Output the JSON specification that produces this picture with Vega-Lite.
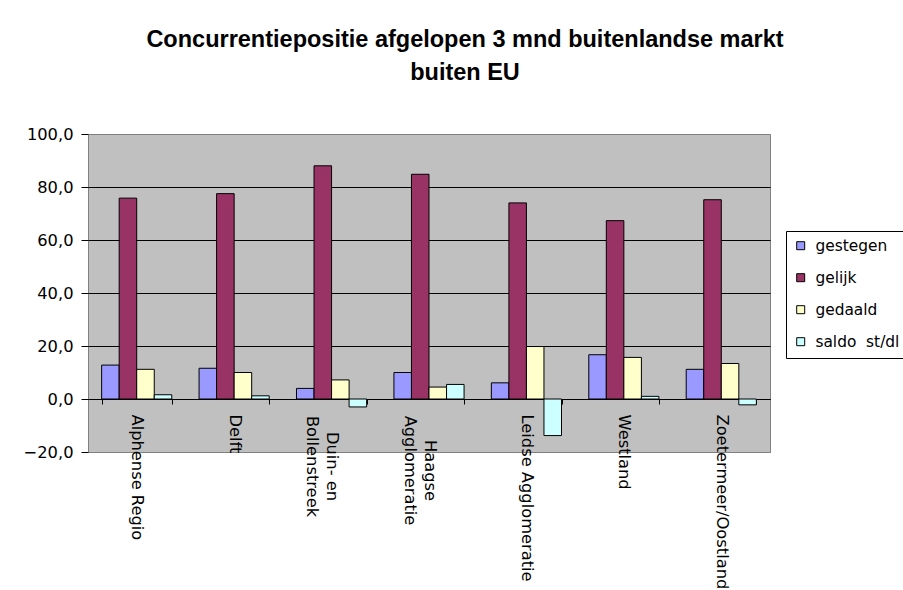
{
  "$schema": "https://vega.github.io/schema/vega-lite/v6.json",
  "width": 682,
  "height": 318,
  "autosize": "none",
  "padding": {"left": 88, "top": 134, "right": 133, "bottom": 138},
  "background": "white",
  "title": {
    "text": ["Concurrentiepositie afgelopen 3 mnd buitenlandse markt", "buiten EU"],
    "font": "Liberation Sans",
    "fontSize": 23.5,
    "fontWeight": "bold",
    "color": "black",
    "anchor": "middle",
    "dx": 36,
    "offset": 41,
    "lineHeight": 33.4
  },
  "data": {
    "values": [
      {"regio": "Alphense Regio", "reeks": "gestegen", "waarde": 12.8},
      {"regio": "Alphense Regio", "reeks": "gelijk", "waarde": 75.8},
      {"regio": "Alphense Regio", "reeks": "gedaald", "waarde": 11.2},
      {"regio": "Alphense Regio", "reeks": "saldo  st/dl", "waarde": 1.6},
      {"regio": "Delft", "reeks": "gestegen", "waarde": 11.6},
      {"regio": "Delft", "reeks": "gelijk", "waarde": 77.5},
      {"regio": "Delft", "reeks": "gedaald", "waarde": 10.0},
      {"regio": "Delft", "reeks": "saldo  st/dl", "waarde": 1.2},
      {"regio": "Duin- en Bollenstreek", "reeks": "gestegen", "waarde": 4.0},
      {"regio": "Duin- en Bollenstreek", "reeks": "gelijk", "waarde": 88.0},
      {"regio": "Duin- en Bollenstreek", "reeks": "gedaald", "waarde": 7.2},
      {"regio": "Duin- en Bollenstreek", "reeks": "saldo  st/dl", "waarde": -3.0},
      {"regio": "Haagse Agglomeratie", "reeks": "gestegen", "waarde": 10.0},
      {"regio": "Haagse Agglomeratie", "reeks": "gelijk", "waarde": 84.8},
      {"regio": "Haagse Agglomeratie", "reeks": "gedaald", "waarde": 4.5},
      {"regio": "Haagse Agglomeratie", "reeks": "saldo  st/dl", "waarde": 5.5},
      {"regio": "Leidse Agglomeratie", "reeks": "gestegen", "waarde": 6.1},
      {"regio": "Leidse Agglomeratie", "reeks": "gelijk", "waarde": 74.0},
      {"regio": "Leidse Agglomeratie", "reeks": "gedaald", "waarde": 19.8},
      {"regio": "Leidse Agglomeratie", "reeks": "saldo  st/dl", "waarde": -13.8},
      {"regio": "Westland", "reeks": "gestegen", "waarde": 16.7},
      {"regio": "Westland", "reeks": "gelijk", "waarde": 67.3},
      {"regio": "Westland", "reeks": "gedaald", "waarde": 15.7},
      {"regio": "Westland", "reeks": "saldo  st/dl", "waarde": 1.0},
      {"regio": "Zoetermeer/Oostland", "reeks": "gestegen", "waarde": 11.2},
      {"regio": "Zoetermeer/Oostland", "reeks": "gelijk", "waarde": 75.2},
      {"regio": "Zoetermeer/Oostland", "reeks": "gedaald", "waarde": 13.4},
      {"regio": "Zoetermeer/Oostland", "reeks": "saldo  st/dl", "waarde": -2.2}
    ]
  },
  "mark": {"type": "bar", "stroke": "black", "strokeWidth": 1},
  "encoding": {
    "x": {
      "field": "regio",
      "type": "nominal",
      "sort": null,
      "scale": {"paddingInner": 0.28, "paddingOuter": 0.14},
      "axis": {
        "title": null,
        "offset": -53,
        "labelAngle": 90,
        "labelAlign": {"condition": {"test": "datum.value == 'Duin- en Bollenstreek' || datum.value == 'Haagse Agglomeratie'", "value": "center"}, "value": "left"},
        "labelBaseline": "middle",
        "labelFont": "DejaVu Sans",
        "labelFontSize": 16.3,
        "labelColor": "black",
        "labelPadding": {"condition": [{"test": "datum.value == 'Duin- en Bollenstreek'", "value": 62}, {"test": "datum.value == 'Haagse Agglomeratie'", "value": 66}], "value": 10},
        "labelLineHeight": 20,
        "labelOverlap": false,
        "labelLimit": 400,
        "labelExpr": "datum.label == 'Duin- en Bollenstreek' ? ['Duin- en', 'Bollenstreek'] : datum.label == 'Haagse Agglomeratie' ? ['Haagse', 'Agglomeratie'] : datum.label",
        "tickBand": "extent",
        "tickColor": "black",
        "tickSize": 5,
        "domainColor": "black",
        "grid": false
      }
    },
    "xOffset": {
      "field": "reeks",
      "sort": ["gestegen", "gelijk", "gedaald", "saldo  st/dl"],
      "scale": {"paddingInner": 0, "paddingOuter": 0}
    },
    "y": {
      "field": "waarde",
      "type": "quantitative",
      "scale": {"domain": [-20, 100], "nice": false, "zero": false},
      "axis": {
        "title": null,
        "values": [-20, 0, 20, 40, 60, 80, 100],
        "labelExpr": "replace(format(datum.value, '.1f'), '.', ',')",
        "labelFont": "DejaVu Sans",
        "labelFontSize": 16.3,
        "labelColor": "black",
        "labelPadding": 8,
        "tickColor": "black",
        "tickSize": 7,
        "domain": false,
        "grid": true,
        "gridColor": {"condition": {"test": "datum.value == 100 || datum.value == -20", "value": "#808080"}, "value": "black"},
        "gridWidth": 1
      }
    },
    "color": {
      "field": "reeks",
      "type": "nominal",
      "sort": ["gestegen", "gelijk", "gedaald", "saldo  st/dl"],
      "scale": {
        "domain": ["gestegen", "gelijk", "gedaald", "saldo  st/dl"],
        "range": ["#9999FF", "#993366", "#FFFFCC", "#CCFFFF"]
      },
      "legend": {
        "orient": "none",
        "legendX": 698,
        "legendY": 97,
        "title": null,
        "symbolType": "square",
        "symbolSize": 64,
        "symbolStrokeColor": "black",
        "symbolStrokeWidth": 1,
        "labelFont": "DejaVu Sans",
        "labelFontSize": 15.4,
        "labelColor": "black",
        "labelOffset": 7,
        "labelLimit": 300,
        "labelExpr": "replace(datum.label, '  ', '\u00a0\u00a0')",
        "strokeColor": "black",
        "fillColor": "white",
        "padding": 7,
        "rowPadding": 15
      }
    }
  },
  "config": {"view": {"fill": "#c0c0c0", "stroke": "#808080"}}
}
